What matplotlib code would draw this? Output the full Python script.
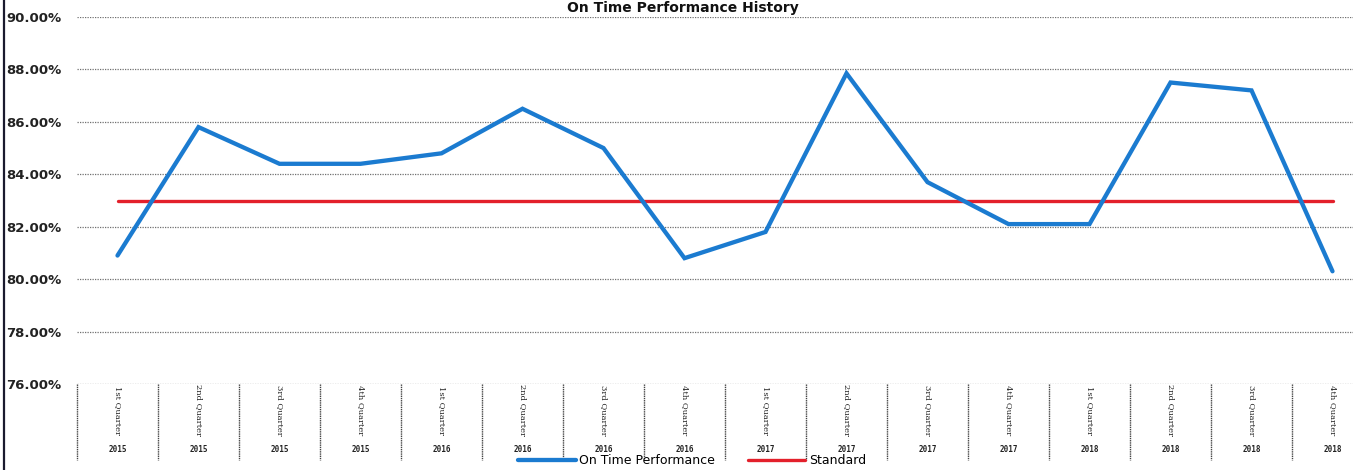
import matplotlib
matplotlib.use("Agg")
import matplotlib.pyplot as plt
from matplotlib.ticker import FuncFormatter
import matplotlib.transforms as mtransforms

# Quarterly on-time performance against the standard
quarters = ["1st Quarter", "2nd Quarter", "3rd Quarter", "4th Quarter",
            "1st Quarter", "2nd Quarter", "3rd Quarter", "4th Quarter",
            "1st Quarter", "2nd Quarter", "3rd Quarter", "4th Quarter",
            "1st Quarter", "2nd Quarter", "3rd Quarter", "4th Quarter"]
years = ["2015", "2015", "2015", "2015",
         "2016", "2016", "2016", "2016",
         "2017", "2017", "2017", "2017",
         "2018", "2018", "2018", "2018"]
on_time = [80.9, 85.8, 84.4, 84.4, 84.8, 86.5, 85.0, 80.8,
           81.8, 87.85, 83.7, 82.1, 82.1, 87.5, 87.2, 80.3]
standard = [83.0] * 16
y_ticks = [76, 78, 80, 82, 84, 86, 88, 90]

W, H = 1353, 470
fig = plt.figure(figsize=(W / 100, H / 100), dpi=100)
fig.patch.set_facecolor("white")

left, right, top, bottom = 77, 1373, 17, 384
ax = fig.add_axes([left / W, (H - bottom) / H, (right - left) / W, (bottom - top) / H])

x = list(range(len(quarters)))
l1, = ax.plot(x, on_time, color="#1b7bd0", lw=3.1, solid_capstyle="round",
              solid_joinstyle="miter", label="On Time Performance", zorder=3)
l2, = ax.plot(x, standard, color="#e3202b", lw=2.4, solid_capstyle="round",
              label="Standard", zorder=2)

ax.set_xlim(-0.5, len(quarters) - 0.5)
ax.set_ylim(76, 90)
ax.set_yticks(y_ticks)
ax.yaxis.set_major_formatter(FuncFormatter(lambda v, p: f"{v:.2f}%"))
ax.tick_params(axis="y", length=0, pad=11, labelsize=9.5, labelcolor="#222222")
for t in ax.get_yticklabels():
    t.set_fontweight("semibold")
ax.set_xticks([])
for s in ax.spines.values():
    s.set_visible(False)
ax.grid(axis="y", color="#707070", lw=0.9, linestyle=(0, (1, 1)))
ax.set_axisbelow(True)

# Category axis: separators, rotated quarter labels and year labels
trans = mtransforms.blended_transform_factory(ax.transData, ax.transAxes)
sep_bottom = -(460 - bottom) / (bottom - top)
for b in [i - 0.5 for i in range(len(quarters) + 1)]:
    ax.plot([b, b], [0, sep_bottom], transform=trans, color="#444444",
            lw=1.0, linestyle=(0, (1, 0.6)), clip_on=False)
q_y = -(410 - bottom) / (bottom - top)
yr_y = -(450 - bottom) / (bottom - top)
for i, (q, yr) in enumerate(zip(quarters, years)):
    ax.text(i, q_y, q, transform=trans, rotation=270, ha="center", va="center",
            fontsize=6, family="DejaVu Serif", color="#222222")
    ax.text(i, yr_y, yr, transform=trans, ha="center", va="center",
            fontsize=5.5, family="DejaVu Sans Mono", fontweight="bold", color="#222222")

# Title along the top edge
fig.text(0.505, 1.0 - 1 / H, "On Time Performance History", ha="center", va="top",
         fontsize=10, fontweight="bold", color="#111111")

# Left frame edge
fig.add_artist(plt.Line2D([4 / W, 4 / W], [0, 1], transform=fig.transFigure,
                          color="#1a1a2e", lw=1.6))

fig.legend(handles=[l1, l2], loc="center", bbox_to_anchor=(692 / W, 1 - 461 / H),
           ncol=2, frameon=False, fontsize=9, handlelength=4.6, columnspacing=2.6,
           handletextpad=0.3, borderpad=0, borderaxespad=0)

fig.savefig("out.png", dpi=100, facecolor="white")
